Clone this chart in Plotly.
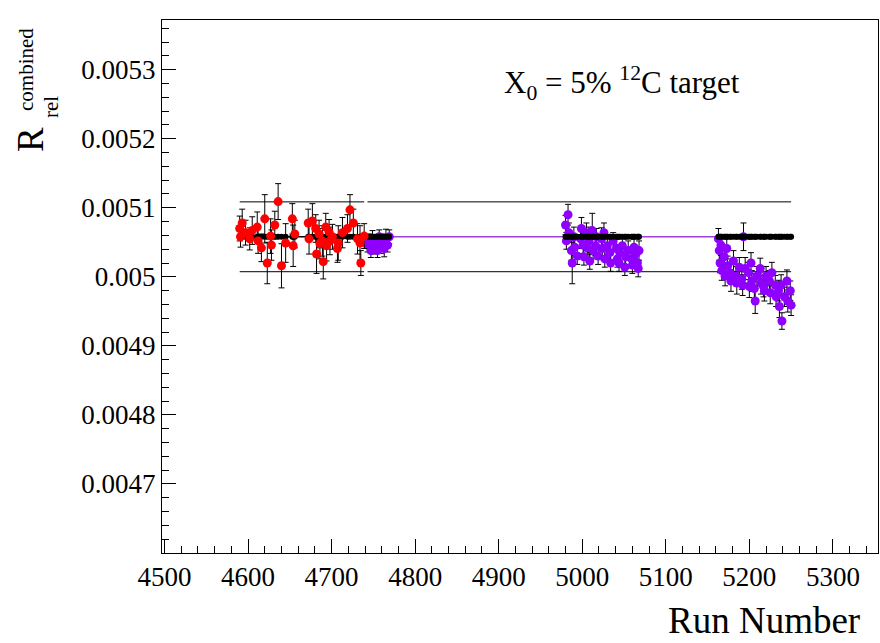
import plotly.graph_objects as go

# ---------------- data ----------------
red_runs = [4590, 4591, 4593, 4597, 4602, 4605, 4611, 4612, 4616, 4620, 4623, 4627, 4628, 4632,
            4636, 4640, 4645, 4653, 4654, 4656, 4672, 4673, 4677, 4681, 4682, 4685, 4686, 4689,
            4690, 4693, 4694, 4697, 4698, 4701, 4707, 4708, 4713, 4719, 4722, 4726, 4731, 4734,
            4735, 4739]
red_vals = [0.005070, 0.005058, 0.005078, 0.005064, 0.005055, 0.005067, 0.005072, 0.005052,
            0.005042, 0.005084, 0.005020, 0.005059, 0.005046, 0.005075, 0.005109, 0.005016,
            0.005049, 0.005084, 0.005045, 0.005062, 0.005078, 0.005055, 0.005081, 0.005070,
            0.005033, 0.005062, 0.005048, 0.005052, 0.005022, 0.005072, 0.005045, 0.005065,
            0.005052, 0.005058, 0.005041, 0.005049, 0.005064, 0.005070, 0.005097, 0.005078,
            0.005055, 0.005049, 0.005020, 0.005059]
red_errs = [0.000018, 0.000015, 0.000020, 0.000018, 0.000016, 0.000020, 0.000022, 0.000018,
            0.000020, 0.000035, 0.000030, 0.000025, 0.000022, 0.000020, 0.000026, 0.000032,
            0.000028, 0.000022, 0.000030, 0.000020, 0.000020, 0.000022, 0.000025, 0.000020,
            0.000028, 0.000020, 0.000022, 0.000022, 0.000025, 0.000020, 0.000022, 0.000018,
            0.000020, 0.000018, 0.000020, 0.000025, 0.000022, 0.000020, 0.000022, 0.000020,
            0.000022, 0.000025, 0.000018, 0.000018]

purple_runs = [4743, 4745, 4747, 4749, 4751, 4753, 4755, 4757, 4759, 4761, 4763, 4765, 4767, 4769,
               4980, 4981, 4983, 4984, 4987, 4988, 4990, 4991, 4994, 4998, 4999, 5001, 5002,
               5005, 5006, 5008, 5009, 5012, 5013, 5016, 5017, 5019, 5023, 5024, 5026, 5027,
               5030, 5033, 5034, 5037, 5041, 5042, 5044, 5045, 5048, 5051, 5052, 5055, 5059,
               5060, 5062, 5063, 5066, 5067, 5068,
               5163, 5164, 5165, 5166, 5167, 5170, 5171, 5173, 5174, 5177, 5178, 5181, 5184,
               5185, 5188, 5191, 5192, 5193, 5195, 5199, 5200, 5202, 5203, 5206, 5207, 5209,
               5213, 5214, 5217, 5218, 5220, 5224, 5225, 5227, 5231, 5232, 5235, 5236, 5238,
               5239, 5242, 5245, 5246, 5249, 5250]
purple_vals = [0.005046, 0.005052, 0.005038, 0.005055, 0.005043, 0.005049, 0.005038, 0.005058,
               0.005046, 0.005052, 0.005041, 0.005055, 0.005046, 0.005058,
               0.005075, 0.005052, 0.005090, 0.005064, 0.005038, 0.005020, 0.005058, 0.005043,
               0.005030, 0.005055, 0.005070, 0.005046, 0.005029, 0.005064, 0.005042, 0.005052,
               0.005023, 0.005067, 0.005038, 0.005045, 0.005058, 0.005030, 0.005055, 0.005041,
               0.005064, 0.005026, 0.005045, 0.005035, 0.005020, 0.005052, 0.005041, 0.005026,
               0.005020, 0.005035, 0.005045, 0.005014, 0.005029, 0.005038, 0.005026, 0.005017,
               0.005043, 0.005032, 0.005020, 0.005012, 0.005038,
               0.005055, 0.005038, 0.005020, 0.005046, 0.005009, 0.005029, 0.005001, 0.005041,
               0.005016, 0.005006, 0.004994, 0.005023, 0.005001, 0.004991, 0.005014, 0.004997,
               0.004988, 0.005058, 0.005012, 0.005006, 0.004986, 0.005020, 0.004994, 0.004983,
               0.004965, 0.005001, 0.005012, 0.004991, 0.004986, 0.004980, 0.005001, 0.004994,
               0.004977, 0.005006, 0.004988, 0.004971, 0.004980, 0.004957, 0.004988, 0.004936,
               0.004971, 0.004994, 0.004965, 0.004980, 0.004959]
purple_errs = [0.000010, 0.000010, 0.000010, 0.000012, 0.000010, 0.000012, 0.000010, 0.000010,
               0.000012, 0.000010, 0.000012, 0.000014, 0.000010, 0.000010,
               0.000014, 0.000012, 0.000015, 0.000014, 0.000014, 0.000030, 0.000014, 0.000012,
               0.000012, 0.000014, 0.000016, 0.000012, 0.000012, 0.000014, 0.000012, 0.000020,
               0.000012, 0.000025, 0.000012, 0.000014, 0.000012, 0.000012, 0.000016, 0.000012,
               0.000014, 0.000012, 0.000012, 0.000014, 0.000012, 0.000012, 0.000014, 0.000012,
               0.000012, 0.000012, 0.000014, 0.000012, 0.000012, 0.000014, 0.000012, 0.000012,
               0.000014, 0.000012, 0.000012, 0.000012, 0.000014,
               0.000015, 0.000014, 0.000014, 0.000015, 0.000014, 0.000014, 0.000014, 0.000015,
               0.000014, 0.000014, 0.000015, 0.000015, 0.000014, 0.000016, 0.000014, 0.000015,
               0.000015, 0.000020, 0.000016, 0.000015, 0.000016, 0.000015, 0.000015, 0.000016,
               0.000018, 0.000014, 0.000015, 0.000016, 0.000015, 0.000015, 0.000014, 0.000015,
               0.000016, 0.000015, 0.000014, 0.000014, 0.000015, 0.000016, 0.000015, 0.000012,
               0.000014, 0.000016, 0.000016, 0.000014, 0.000015]

FIT_MEAN = 0.005058      # fitted mean value
BAND = 0.01              # +-1 % band

x_ticks = [4500, 4600, 4700, 4800, 4900, 5000, 5100, 5200, 5300]
y_ticks = [0.0047, 0.0048, 0.0049, 0.0050, 0.0051, 0.0052, 0.0053]
y_labels = ["0.0047", "0.0048", "0.0049", "0.005", "0.0051", "0.0052", "0.0053"]

# ---------------- figure ----------------
RED = "#ff0000"
PURPLE = "#8f00ff"
LINE_PURPLE = "#a040e0"
FONT = "Liberation Serif"

fig = go.Figure()

segments = [(min(red_runs), max(red_runs), "black"),
            (min(purple_runs), max(purple_runs), LINE_PURPLE)]
for x0, x1, mid_col in segments:
    for f, col, w in [(1 + BAND, "black", 1), (1 - BAND, "black", 1), (1, mid_col, 1.5)]:
        fig.add_trace(go.Scatter(x=[x0, x1], y=[FIT_MEAN * f] * 2, mode="lines",
                                 line=dict(color=col, width=w), hoverinfo="skip",
                                 showlegend=False))

err_style = dict(type="data", color="black", thickness=1, width=3)

fig.add_trace(go.Scatter(x=purple_runs, y=purple_vals, mode="markers",
                         error_y=dict(array=purple_errs, **err_style),
                         marker=dict(color=PURPLE, size=9), showlegend=False))

all_runs = red_runs + purple_runs
fig.add_trace(go.Scatter(x=all_runs, y=[FIT_MEAN] * len(all_runs), mode="markers",
                         marker=dict(color="black", size=6), showlegend=False))

fig.add_trace(go.Scatter(x=red_runs, y=red_vals, mode="markers",
                         error_y=dict(array=red_errs, **err_style),
                         marker=dict(color=RED, size=9), showlegend=False))

# layout geometry (pixels)
L, R, T, B = 162, 2, 20, 90
W, H = 880, 643
pw, ph = W - L - R, H - T - B


def px(x):
    return (x - L) / pw


def py(y):
    return (H - B - y) / ph


axis_common = dict(showgrid=False, zeroline=False, showline=True, linecolor="black",
                   linewidth=1, mirror=True, ticks="inside", ticklen=14, tickcolor="black",
                   tickfont=dict(family=FONT, size=27, color="black"))


def ann(text, x, y, size, angle=0):
    return dict(text=text, xref="paper", yref="paper", x=px(x), y=py(y),
                xanchor="center", yanchor="middle", textangle=angle, showarrow=False,
                font=dict(family=FONT, size=size, color="black"))


fig.update_layout(
    width=W, height=H,
    margin=dict(l=L, r=R, t=T, b=B),
    paper_bgcolor="white", plot_bgcolor="white",
    xaxis=dict(range=[4497, 5354], tickvals=x_ticks,
               minor=dict(dtick=20, ticks="inside", ticklen=7, tickcolor="black"),
               **axis_common),
    yaxis=dict(range=[0.0046, 0.005372], tickvals=y_ticks, ticktext=y_labels,
               minor=dict(dtick=0.00002, ticks="inside", ticklen=7, tickcolor="black"),
               **axis_common),
    annotations=[
        ann("X<sub>0</sub> = 5% <sup>12</sup>C target", 622, 83, 31),
        ann("Run Number", 764, 620, 37),
        ann("R", 30, 140, 37, -90),
        ann("combined", 26, 70, 21, -90),
        ann("rel", 51, 107, 21, -90),
    ],
)

fig.write_html("out.html")
